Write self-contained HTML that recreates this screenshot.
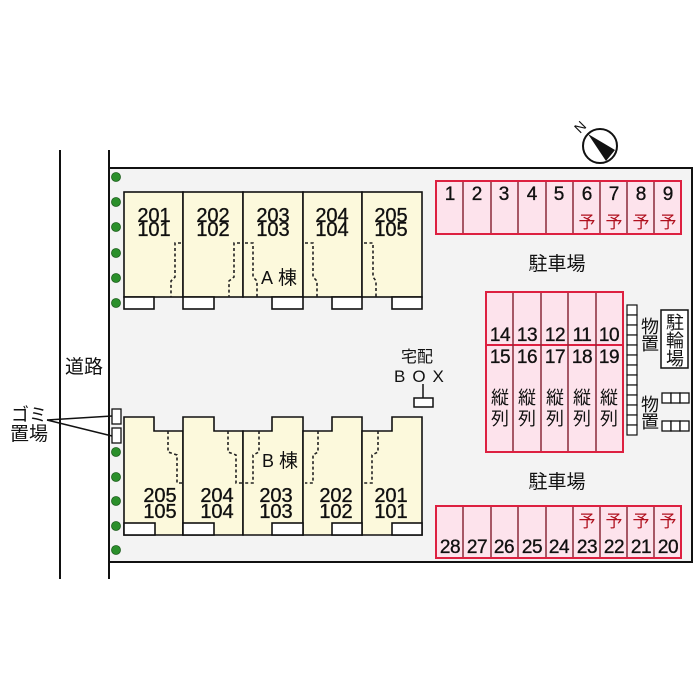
<!DOCTYPE html>
<html><head><meta charset="utf-8"><style>
html,body{margin:0;padding:0;background:#fff;}
svg{display:block;}
text{font-family:"Liberation Sans","Noto Sans CJK JP",sans-serif;fill:#111;}
.j{font-family:"Noto Sans CJK JP","Liberation Sans",sans-serif;}
.n{stroke:#111;stroke-width:0.35;}
</style></head><body>
<svg width="700" height="700" viewBox="0 0 700 700" xmlns="http://www.w3.org/2000/svg">
<rect width="700" height="700" fill="#fff"/>
<!-- site -->
<rect x="109" y="168" width="583" height="394" fill="#f3f3f3"/>
<line x1="60" y1="150" x2="60" y2="579" stroke="#111" stroke-width="2"/>
<line x1="109" y1="150" x2="109" y2="579" stroke="#111" stroke-width="2"/>
<polyline points="109,168 692,168 692,562 109,562" fill="none" stroke="#111" stroke-width="2"/>

<!-- green dots -->
<g fill="#2a8f2a" stroke="#1d5e1d" stroke-width="0.8">
<circle cx="116" cy="177" r="4.5"/><circle cx="116" cy="202" r="4.5"/><circle cx="116" cy="227" r="4.5"/>
<circle cx="116" cy="253" r="4.5"/><circle cx="116" cy="278" r="4.5"/><circle cx="116" cy="303" r="4.5"/>
<circle cx="116" cy="452" r="4.5"/><circle cx="116" cy="477" r="4.5"/><circle cx="116" cy="501" r="4.5"/>
<circle cx="116" cy="526" r="4.5"/><circle cx="116" cy="550" r="4.5"/>
</g>

<!-- road label -->
<text class="j" x="65" y="373" font-size="19">道路</text>
<!-- garbage -->
<text class="j" x="11" y="421" font-size="18">ゴミ</text>
<text class="j" x="10" y="440" font-size="19">置場</text>
<line x1="47" y1="420" x2="112" y2="416" stroke="#111" stroke-width="1.5"/>
<line x1="47" y1="420" x2="112" y2="436" stroke="#111" stroke-width="1.5"/>
<rect x="112" y="409" width="9" height="15" fill="#fff" stroke="#111" stroke-width="1.3"/>
<rect x="112" y="428" width="9" height="15" fill="#fff" stroke="#111" stroke-width="1.3"/>

<!-- Building A -->
<g fill="#fcf9dc" stroke="#111" stroke-width="1.6">
<rect x="124" y="192" width="59" height="105"/>
<rect x="183" y="192" width="60" height="105"/>
<rect x="243" y="192" width="60" height="105"/>
<rect x="303" y="192" width="59" height="105"/>
<rect x="362" y="192" width="60" height="105"/>
</g>
<g fill="#fff" stroke="#111" stroke-width="1.6">
<rect x="124" y="297" width="30" height="12"/>
<rect x="183" y="297" width="31" height="12"/>
<rect x="272" y="297" width="31" height="12"/>
<rect x="332" y="297" width="30" height="12"/>
<rect x="392" y="297" width="30" height="12"/>
</g>
<g fill="none" stroke="#222" stroke-width="1.6" stroke-dasharray="3,2.5">
<polyline points="181,243 175,243 175,277 171,281 171,297"/>
<polyline points="240,243 234,243 234,277 229,281 229,297"/>
<polyline points="245,243 253,243 253,277 257,281 257,297"/>
<polyline points="305,243 313,243 313,277 317,281 317,297"/>
<polyline points="364,243 373,243 373,277 376,281 376,297"/>
</g>
<g font-size="20" text-anchor="middle" class="n">
<text x="154" y="222">201</text><text x="154" y="236">101</text>
<text x="213" y="222">202</text><text x="213" y="236">102</text>
<text x="273" y="222">203</text><text x="273" y="236">103</text>
<text x="332" y="222">204</text><text x="332" y="236">104</text>
<text x="391" y="222">205</text><text x="391" y="236">105</text>
</g>
<text x="261" y="284" font-size="18">A</text>
<text class="j" x="278" y="284" font-size="19">棟</text>

<!-- Building B -->
<g fill="#fcf9dc" stroke="#111" stroke-width="1.6">
<path d="M124,417 H154 V431 H183 V535 H124 Z"/>
<path d="M183,417 H214 V431 H243 V535 H183 Z"/>
<path d="M243,431 H272 V417 H303 V535 H243 Z"/>
<path d="M303,431 H332 V417 H362 V535 H303 Z"/>
<path d="M362,431 H392 V417 H422 V535 H362 Z"/>
</g>
<g fill="#fff" stroke="#111" stroke-width="1.6">
<rect x="124" y="523" width="31" height="12"/>
<rect x="183" y="523" width="31" height="12"/>
<rect x="272" y="523" width="31" height="12"/>
<rect x="332" y="523" width="30" height="12"/>
<rect x="392" y="523" width="30" height="12"/>
</g>
<g fill="none" stroke="#222" stroke-width="1.6" stroke-dasharray="3,2.5">
<polyline points="168,431 168,452 177,455 177,483 183,483"/>
<polyline points="228,431 228,452 236,455 236,483 243,483"/>
<polyline points="259,431 259,452 253,455 253,483 245,483"/>
<polyline points="318,431 318,452 313,455 313,483 305,483"/>
<polyline points="378,431 378,452 372,455 372,483 364,483"/>
</g>
<g font-size="20" text-anchor="middle" class="n">
<text x="160" y="502">205</text><text x="160" y="518">105</text>
<text x="217" y="502">204</text><text x="217" y="518">104</text>
<text x="276" y="502">203</text><text x="276" y="518">103</text>
<text x="336" y="502">202</text><text x="336" y="518">102</text>
<text x="391" y="502">201</text><text x="391" y="518">101</text>
</g>
<text x="262" y="467" font-size="18">B</text>
<text class="j" x="279" y="467" font-size="19">棟</text>

<!-- delivery box -->
<text class="j" x="401" y="362" font-size="16">宅配</text>
<text x="394" y="382" font-size="17" letter-spacing="7">BOX</text>
<line x1="423" y1="384" x2="423" y2="398" stroke="#111" stroke-width="1.5"/>
<rect x="414" y="398" width="19" height="9" fill="#fff" stroke="#111" stroke-width="1.5"/>

<!-- compass -->
<circle cx="600" cy="146" r="17" fill="#fff" stroke="#111" stroke-width="2"/>
<polygon points="588,134 615,150 606,161" fill="#111"/>
<text x="0" y="0" font-size="14" transform="translate(580,134) rotate(-45)">N</text>

<!-- top parking -->
<rect x="436" y="181" width="245" height="53" fill="#fde3ec" stroke="#dd2040" stroke-width="2"/>
<g stroke="#8a2a3a" stroke-width="1.5">
<line x1="463" y1="182" x2="463" y2="233"/><line x1="491" y1="182" x2="491" y2="233"/>
<line x1="518" y1="182" x2="518" y2="233"/><line x1="546" y1="182" x2="546" y2="233"/>
<line x1="573" y1="182" x2="573" y2="233"/><line x1="600" y1="182" x2="600" y2="233"/>
<line x1="627" y1="182" x2="627" y2="233"/><line x1="654" y1="182" x2="654" y2="233"/>
</g>
<g font-size="19" text-anchor="middle" class="n">
<text x="450" y="200">1</text><text x="477" y="200">2</text><text x="504" y="200">3</text>
<text x="532" y="200">4</text><text x="559" y="200">5</text><text x="587" y="200">6</text>
<text x="614" y="200">7</text><text x="641" y="200">8</text><text x="668" y="200">9</text>
</g>
<g font-size="17" text-anchor="middle">
<text class="j" x="587" y="228" style="fill:#b0101e">予</text>
<text class="j" x="614" y="228" style="fill:#b0101e">予</text>
<text class="j" x="641" y="228" style="fill:#b0101e">予</text>
<text class="j" x="668" y="228" style="fill:#b0101e">予</text>
</g>
<text class="j" x="557" y="270" font-size="19" text-anchor="middle">駐車場</text>

<!-- middle parking -->
<rect x="486" y="292" width="137" height="160" fill="#fde3ec" stroke="#dd2040" stroke-width="2"/>
<line x1="486" y1="345" x2="623" y2="345" stroke="#dd2040" stroke-width="2"/>
<g stroke="#8a2a3a" stroke-width="1.5">
<line x1="513" y1="293" x2="513" y2="451"/><line x1="541" y1="293" x2="541" y2="451"/>
<line x1="568" y1="293" x2="568" y2="451"/><line x1="596" y1="293" x2="596" y2="451"/>
</g>
<g font-size="19" text-anchor="middle" letter-spacing="-0.5" class="n">
<text x="500" y="341">14</text><text x="527" y="341">13</text><text x="555" y="341">12</text>
<text x="582" y="341">11</text><text x="609" y="341">10</text>
<text x="500" y="363">15</text><text x="527" y="363">16</text><text x="555" y="363">17</text>
<text x="582" y="363">18</text><text x="609" y="363">19</text>
</g>
<g font-size="18" text-anchor="middle">
<text class="j" x="500" y="404">縦</text><text class="j" x="500" y="425">列</text>
<text class="j" x="527" y="404">縦</text><text class="j" x="527" y="425">列</text>
<text class="j" x="555" y="404">縦</text><text class="j" x="555" y="425">列</text>
<text class="j" x="582" y="404">縦</text><text class="j" x="582" y="425">列</text>
<text class="j" x="609" y="404">縦</text><text class="j" x="609" y="425">列</text>
</g>

<!-- storage column -->
<g fill="#fff" stroke="#111" stroke-width="1.2">
<rect x="627" y="305" width="10" height="10"/><rect x="627" y="315" width="10" height="10"/>
<rect x="627" y="325" width="10" height="10"/><rect x="627" y="335" width="10" height="10"/>
<rect x="627" y="345" width="10" height="10"/><rect x="627" y="355" width="10" height="10"/>
<rect x="627" y="365" width="10" height="10"/><rect x="627" y="375" width="10" height="10"/>
<rect x="627" y="385" width="10" height="10"/><rect x="627" y="395" width="10" height="10"/>
<rect x="627" y="405" width="10" height="10"/><rect x="627" y="415" width="10" height="10"/>
<rect x="627" y="425" width="10" height="10"/>
</g>
<text class="j" x="650" y="333" font-size="18" text-anchor="middle">物</text>
<text class="j" x="650" y="350" font-size="18" text-anchor="middle">置</text>
<text class="j" x="650" y="411" font-size="18" text-anchor="middle">物</text>
<text class="j" x="650" y="428" font-size="18" text-anchor="middle">置</text>

<!-- bicycle parking -->
<rect x="661" y="310" width="27" height="58" fill="#fff" stroke="#111" stroke-width="1.5"/>
<g font-size="18" text-anchor="middle">
<text class="j" x="675" y="329">駐</text><text class="j" x="675" y="347">輪</text><text class="j" x="675" y="365">場</text>
</g>
<g fill="#fff" stroke="#111" stroke-width="1.3">
<rect x="662" y="393" width="9" height="10"/><rect x="671" y="393" width="9" height="10"/><rect x="680" y="393" width="9" height="10"/>
<rect x="662" y="421" width="9" height="10"/><rect x="671" y="421" width="9" height="10"/><rect x="680" y="421" width="9" height="10"/>
</g>

<!-- bottom parking -->
<text class="j" x="557" y="488" font-size="19" text-anchor="middle">駐車場</text>
<rect x="436" y="506" width="245" height="52" fill="#fde3ec" stroke="#dd2040" stroke-width="2"/>
<g stroke="#8a2a3a" stroke-width="1.5">
<line x1="463" y1="507" x2="463" y2="557"/><line x1="491" y1="507" x2="491" y2="557"/>
<line x1="518" y1="507" x2="518" y2="557"/><line x1="546" y1="507" x2="546" y2="557"/>
<line x1="573" y1="507" x2="573" y2="557"/><line x1="600" y1="507" x2="600" y2="557"/>
<line x1="627" y1="507" x2="627" y2="557"/><line x1="654" y1="507" x2="654" y2="557"/>
</g>
<g font-size="19" text-anchor="middle" letter-spacing="-0.5" class="n">
<text x="450" y="553">28</text><text x="477" y="553">27</text><text x="504" y="553">26</text>
<text x="532" y="553">25</text><text x="559" y="553">24</text><text x="587" y="553">23</text>
<text x="614" y="553">22</text><text x="641" y="553">21</text><text x="668" y="553">20</text>
</g>
<text class="j" x="587" y="527" font-size="17" text-anchor="middle" style="fill:#b0101e">予</text>
<text class="j" x="614" y="527" font-size="17" text-anchor="middle" style="fill:#b0101e">予</text>
<text class="j" x="641" y="527" font-size="17" text-anchor="middle" style="fill:#b0101e">予</text>
<text class="j" x="668" y="527" font-size="17" text-anchor="middle" style="fill:#b0101e">予</text>
</svg>
</body></html>
